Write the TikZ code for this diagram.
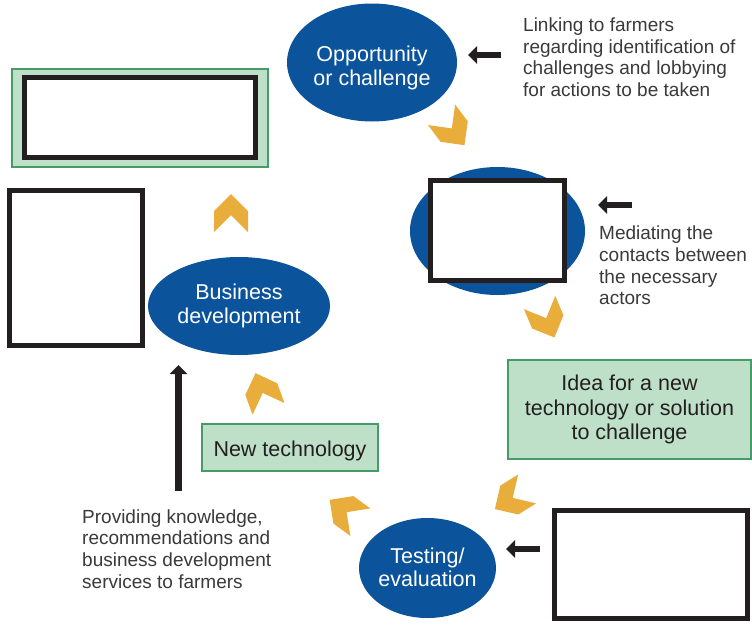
\documentclass[tikz,border=0pt]{standalone}
\usepackage{fontspec}
\setmainfont{Liberation Sans}
\usetikzlibrary{shapes.geometric,arrows.meta}
\definecolor{cblue}{RGB}{11,84,156}
\definecolor{cgold}{RGB}{233,173,59}
\definecolor{cgreen}{RGB}{190,224,200}
\definecolor{cgreenline}{RGB}{70,155,105}
\definecolor{cblack}{RGB}{35,31,32}
\definecolor{ctext}{RGB}{58,58,58}
\begin{document}
\begin{tikzpicture}[x=1pt,y=-1pt,
  bubble/.style={ellipse, fill=cblue, inner sep=0pt},
  bubbletext/.style={text=white, align=center, inner sep=0pt, font=\fontsize{21.5}{23.3}\selectfont},
  greenbox/.style={rectangle, fill=cgreen, draw=cgreenline, line width=1.2pt, inner sep=0pt, align=center, text=cblack, font=\fontsize{21.5}{24.5}\selectfont},
  blankbox/.style={rectangle, draw=cblack, line width=5pt, fill=white, inner sep=0pt},
  note/.style={align=left, anchor=west, inner sep=0pt, text=ctext, font=\fontsize{19}{21.67}\selectfont},
  pointer/.style={draw=cblack, line width=6.5pt, -{Triangle[length=9pt,width=17pt]}},
  chevron/.pic={\fill[cgold] (19,0) -- (2,17) -- (-19,17) -- (-2,0) -- (-19,-17) -- (2,-17) -- cycle;}
]
\fill[white] (0,0) rectangle (752,624);
\useasboundingbox (0,0) rectangle (752,624);

% boxes
\node[greenbox, minimum width=256pt, minimum height=98pt] (goalbg) at (140,118) {};
\node[blankbox, minimum width=231pt, minimum height=80pt] (goal) at (140,117.5) {};
\node[blankbox, minimum width=133pt, minimum height=155pt] (side) at (76,268) {};

% ellipses
\node[bubble, minimum width=170pt, minimum height=118pt,
  label={[bubbletext, yshift=-5.3pt]center:{Opportunity\\or challenge}}] (opp) at (372,62.5) {};
\node[bubble, minimum width=175pt, minimum height=128pt] (mid) at (497.5,231) {};
\node[blankbox, minimum width=134pt, minimum height=100pt] (midbox) at (497.5,230.5) {};
\node[bubble, minimum width=182pt, minimum height=98pt,
  label={[bubbletext]center:{Business\\development}}] (biz) at (239,306) {};
\node[bubble, minimum width=137pt, minimum height=100pt,
  label={[bubbletext, yshift=0.8pt]center:{Testing/\\evaluation}}] (test) at (427.5,568) {};

\node[greenbox, minimum width=243pt, minimum height=99pt] (idea) at (629.5,409.5) {Idea for a new\\technology or solution\\to challenge};
\node[greenbox, minimum width=176pt, minimum height=47pt, text height=18.4pt, text depth=0pt] (newtech) at (290,447.5) {New technology};
\node[blankbox, minimum width=193pt, minimum height=108pt] (final) at (651,564.5) {};

% notes
\node[note] (linktext) at (523,57.2) {Linking to farmers\\regarding identification of\\challenges and lobbying\\for actions to be taken};
\node[note] (mediate) at (599,265.5) {Mediating the\\contacts between\\the necessary\\actors};
\node[note] (provide) at (82,548.9) {Providing knowledge,\\recommendations and\\business development\\services to farmers};

% pointer arrows
\coordinate (p1s) at (501,55);  \coordinate (p1e) at (468,55);
\coordinate (p2s) at (632,205); \coordinate (p2e) at (598,205);
\coordinate (p3s) at (540,549); \coordinate (p3e) at (506,549);
\coordinate (p4s) at (178.5,491); \coordinate (p4e) at (178.5,365);
\draw[pointer] (p1s) -- (p1e);
\draw[pointer] (p2s) -- (p2e);
\draw[pointer] (p3s) -- (p3e);
\draw[pointer] (p4s) -- (p4e);

% chevrons
\path (453,130) pic[rotate=-53] {chevron};
\path (547,320) pic[rotate=-67] {chevron};
\path (511,499) pic[rotate=-148] {chevron};
\path (345,511) pic[rotate=144] {chevron};
\path (262,391) pic[rotate=110] {chevron};
\path (231,213) pic[rotate=90] {chevron};
\end{tikzpicture}
\end{document}
